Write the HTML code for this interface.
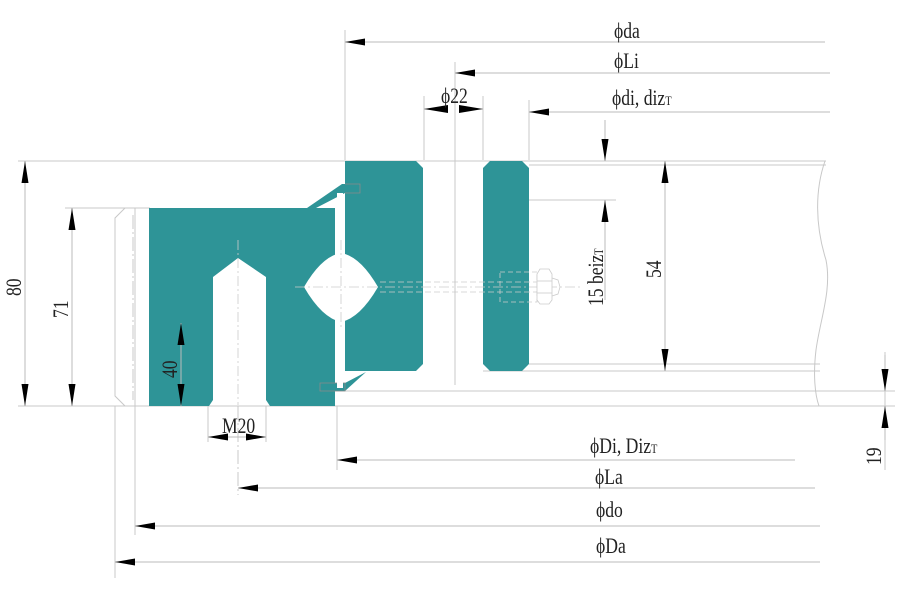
<!DOCTYPE html>
<html><head><meta charset="utf-8"><style>
html,body{margin:0;padding:0;background:#fff}
svg{display:block}
text{font-family:"Liberation Serif","Noto Serif CJK SC",serif;font-size:22px;fill:#222}
</style></head><body>
<svg width="900" height="600" viewBox="0 0 900 600" xmlns="http://www.w3.org/2000/svg">
<g stroke="#c8c8c8" stroke-width="1" fill="none">
<line x1="18" y1="161" x2="826" y2="161"/>
<line x1="529" y1="165" x2="826" y2="165"/>
<line x1="65" y1="208" x2="150" y2="208"/>
<line x1="18" y1="406" x2="895" y2="406"/>
<line x1="335" y1="391" x2="895" y2="391"/>
<line x1="529" y1="364" x2="820" y2="364"/>
<line x1="483" y1="371" x2="820" y2="371"/>
<line x1="529" y1="200" x2="616" y2="200"/>
<line x1="175" y1="323" x2="210" y2="323"/>
<path d="M825,161 C815,190 815,225 826,260 C832,290 820,320 816,350 C813,375 815,395 819,406"/>
<line x1="345" y1="30" x2="345" y2="160"/>
<line x1="455" y1="62" x2="455" y2="385"/>
<line x1="424" y1="96" x2="424" y2="160"/>
<line x1="483" y1="96" x2="483" y2="160"/>
<line x1="529" y1="100" x2="529" y2="160"/>
<line x1="337" y1="406" x2="337" y2="470"/>
<line x1="238" y1="406" x2="238" y2="495" stroke-dasharray="14,3,2,3"/>
<line x1="135" y1="208" x2="135" y2="535"/>
<line x1="115" y1="406" x2="115" y2="578"/>
<line x1="208" y1="406" x2="208" y2="442"/>
<line x1="266" y1="406" x2="266" y2="442"/>
<line x1="885" y1="352" x2="885" y2="470"/>
<path d="M149,208 L125,208 L115,218 L115,396 L125,406 L149,406"/>
<line x1="133" y1="215" x2="133" y2="400" stroke-dasharray="14,3,2,3"/>
</g>
<g fill="#2e9497">
<path d="M149,208 L335,208 L335,406 L149,406 Z M213,400 L213,277 L238,258 L266,277 L266,400 L270,406 L209,406 Z" fill-rule="evenodd"/>
<path d="M345,161 L416,161 L423,168 L423,364 L416,371 L345,371 Z"/>
<path d="M490,161 L522,161 L529,168 L529,364 L522,371 L490,371 L483,364 L483,168 Z"/>
<path d="M307,208 L342,184 L360,184 L360,193 L345,193 L316,208 Z"/>
<path d="M320,383 L345,383 L366,372 L345,391 L320,391 Z"/>
</g>
<g fill="none" stroke="#8a8a8a" stroke-width="0.8">
<path d="M345,184 L360,184 L360,193 L345,193"/>
<path d="M320,383 L345,383 L345,391 L320,391 Z"/>
</g>
<rect x="337" y="193" width="6" height="195" fill="#fff"/>
<path d="M304,287 Q322,256 341,253 Q360,256 378,287 Q360,318 341,322 Q322,318 304,287 Z" fill="#fff"/>
<g stroke="#ccc" stroke-width="0.8" fill="none" stroke-dasharray="10,3,2,3">
<line x1="295" y1="287" x2="580" y2="287"/>
<line x1="341" y1="240" x2="341" y2="330"/>
<line x1="238" y1="240" x2="238" y2="405"/>
</g>
<g stroke="#ccc" stroke-width="0.8" fill="none">
<line x1="380" y1="282" x2="537" y2="282" stroke-dasharray="6,3"/>
<line x1="380" y1="292" x2="537" y2="292" stroke-dasharray="6,3"/>
<rect x="500" y="272" width="37" height="30" stroke-dasharray="5,3"/>
<path d="M537,274 L540,269 L549,269 L552,274 L552,300 L549,304 L540,304 L537,300 Z" fill="#fff"/>
<line x1="537" y1="281" x2="552" y2="281"/><line x1="537" y1="293" x2="552" y2="293"/>
<path d="M552,278 L558,280 L560,287 L558,294 L552,296"/>
</g>
<g stroke="#bbb" stroke-width="1" fill="none">
<line x1="345" y1="42" x2="825" y2="42"/>
<line x1="455" y1="73" x2="830" y2="73"/>
<line x1="424" y1="109" x2="448" y2="109"/>
<line x1="483" y1="109" x2="459" y2="109"/>
<line x1="529" y1="112" x2="830" y2="112"/>
<line x1="337" y1="460" x2="795" y2="460"/>
<line x1="238" y1="488" x2="815" y2="488"/>
<line x1="135" y1="526" x2="820" y2="526"/>
<line x1="115" y1="562" x2="820" y2="562"/>
<line x1="25" y1="161" x2="25" y2="406"/>
<line x1="72" y1="208" x2="72" y2="406"/>
<line x1="181" y1="323" x2="181" y2="406"/>
<line x1="665" y1="161" x2="665" y2="371"/>
<line x1="605" y1="161" x2="605" y2="120"/>
<line x1="605" y1="200" x2="605" y2="300"/>
<line x1="885" y1="391" x2="885" y2="355"/>
<line x1="885" y1="406" x2="885" y2="440"/>
<line x1="208" y1="437" x2="266" y2="437"/>
</g>
<g fill="#000">
<!-- left-pointing horizontal -->
<polygon points="345,42 365,38.5 365,45.5"/>
<polygon points="455,73 475,69.5 475,76.5"/>
<polygon points="424,109 448,105 448,113"/>
<polygon points="483,109 459,105 459,113"/>
<polygon points="529,112 549,108.5 549,115.5"/>
<polygon points="337,460 357,456.5 357,463.5"/>
<polygon points="238,488 258,484.5 258,491.5"/>
<polygon points="135,526 155,522.5 155,529.5"/>
<polygon points="115,562 135,558.5 135,565.5"/>
<polygon points="208,437 228,433.5 228,440.5"/>
<polygon points="266,437 246,433.5 246,440.5"/>
<!-- vertical -->
<polygon points="25,161 21.5,183 28.5,183"/>
<polygon points="25,406 21.5,384 28.5,384"/>
<polygon points="72,208 68.5,230 75.5,230"/>
<polygon points="72,406 68.5,384 75.5,384"/>
<polygon points="181,323 177.5,345 184.5,345"/>
<polygon points="181,406 177.5,384 184.5,384"/>
<polygon points="665,161 661.5,183 668.5,183"/>
<polygon points="665,371 661.5,349 668.5,349"/>
<polygon points="605,161 601.5,139 608.5,139"/>
<polygon points="605,200 601.5,222 608.5,222"/>
<polygon points="885,391 881.5,369 888.5,369"/>
<polygon points="885,406 881.5,428 888.5,428"/>
</g>
<text x="614" y="38" transform="translate(614 0) scale(0.8 1) translate(-614 0)">ϕda</text>
<text x="614" y="68" transform="translate(614 0) scale(0.8 1) translate(-614 0)">ϕLi</text>
<text x="441" y="103" transform="translate(441 0) scale(0.8 1) translate(-441 0)">ϕ22</text>
<text x="612" y="105" transform="translate(612 0) scale(0.8 1) translate(-612 0)">ϕdi, diz<tspan font-size="13">T</tspan></text>
<text x="590" y="453" transform="translate(590 0) scale(0.8 1) translate(-590 0)">ϕDi, Diz<tspan font-size="13">T</tspan></text>
<text x="595" y="484" transform="translate(595 0) scale(0.8 1) translate(-595 0)">ϕLa</text>
<text x="596" y="517" transform="translate(596 0) scale(0.8 1) translate(-596 0)">ϕdo</text>
<text x="596" y="553" transform="translate(596 0) scale(0.8 1) translate(-596 0)">ϕDa</text>
<text x="222" y="433" transform="translate(222 0) scale(0.8 1) translate(-222 0)">M20</text>
<text transform="translate(21 296) rotate(-90) scale(0.8 1)">80</text>
<text transform="translate(68 318) rotate(-90) scale(0.8 1)">71</text>
<text transform="translate(177 378) rotate(-90) scale(0.8 1)">40</text>
<text transform="translate(661 278) rotate(-90) scale(0.8 1)">54</text>
<text transform="translate(603 306) rotate(-90) scale(0.8 1)">15 beiz<tspan font-size="13">T</tspan></text>
<text transform="translate(881 465) rotate(-90) scale(0.8 1)">19</text>
</svg>
</body></html>
